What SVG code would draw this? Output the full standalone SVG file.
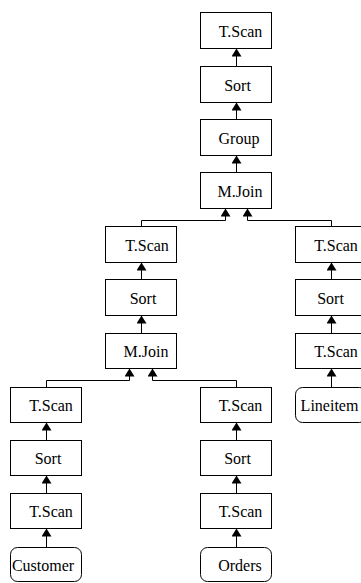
<svg xmlns="http://www.w3.org/2000/svg" width="361" height="583" viewBox="0 0 361 583">
<defs>
<style>
.b{fill:#fff;stroke:#000;stroke-width:1}
.t{font-size:16px;fill:#000;text-anchor:middle}
.c{fill:none;stroke:#000;stroke-width:1}
</style>
<marker id="ah" viewBox="0 0 8 10" refX="8" refY="5" markerWidth="8" markerHeight="10" markerUnits="userSpaceOnUse" orient="auto">
<path d="M0,0 L8,5 L0,10 z" fill="#000"/>
</marker>
</defs>
<rect width="361" height="583" fill="#fff"/>
<g id="connectors">
<path class="c" marker-end="url(#ah)" d="M236.5,66 V48.5"/>
<path class="c" marker-end="url(#ah)" d="M236.5,119 V102.5"/>
<path class="c" marker-end="url(#ah)" d="M236.5,172 V155.5"/>
<path class="c" marker-end="url(#ah)" d="M141.5,226 V220.5 H225.5 V208.5"/>
<path class="c" marker-end="url(#ah)" d="M331.5,226 V220.5 H247.5 V208.5"/>
<path class="c" marker-end="url(#ah)" d="M141.5,279 V262.5"/>
<path class="c" marker-end="url(#ah)" d="M141.5,333 V315.5"/>
<path class="c" marker-end="url(#ah)" d="M331.5,279 V262.5"/>
<path class="c" marker-end="url(#ah)" d="M331.5,333 V315.5"/>
<path class="c" marker-end="url(#ah)" d="M331.5,387 V368.5"/>
<path class="c" marker-end="url(#ah)" d="M46.5,387 V380.5 H129.5 V368.5"/>
<path class="c" marker-end="url(#ah)" d="M236.5,387 V380.5 H152.5 V368.5"/>
<path class="c" marker-end="url(#ah)" d="M46.5,440 V422.5"/>
<path class="c" marker-end="url(#ah)" d="M46.5,493 V475.5"/>
<path class="c" marker-end="url(#ah)" d="M46.5,547 V528.5"/>
<path class="c" marker-end="url(#ah)" d="M236.5,440 V422.5"/>
<path class="c" marker-end="url(#ah)" d="M236.5,493 V475.5"/>
<path class="c" marker-end="url(#ah)" d="M236.5,547 V528.5"/>
</g>
<g font-family="Liberation Serif, Times New Roman, serif">
<g id="n1"><rect class="b" x="200.5" y="12.5" width="71" height="36"/><text class="t" x="240.5" y="36.5">T.Scan</text></g>
<g id="n2"><rect class="b" x="200.5" y="66.5" width="71" height="36"/><text class="t" x="237.5" y="90.5">Sort</text></g>
<g id="n3"><rect class="b" x="200.5" y="119.5" width="71" height="36"/><text class="t" x="239" y="143.5">Group</text></g>
<g id="n4"><rect class="b" x="200.5" y="172.5" width="71" height="36"/><text class="t" x="240" y="196.5">M.Join</text></g>
<g id="n5"><rect class="b" x="105.5" y="226.5" width="71" height="36"/><text class="t" x="147" y="250.5">T.Scan</text></g>
<g id="n6"><rect class="b" x="105.5" y="279.5" width="71" height="36"/><text class="t" x="143" y="303.5">Sort</text></g>
<g id="n7"><rect class="b" x="105.5" y="333.5" width="71" height="35"/><text class="t" x="146" y="357">M.Join</text></g>
<g id="n8"><rect class="b" x="295.5" y="226.5" width="71" height="36"/><text class="t" x="336" y="250.5">T.Scan</text></g>
<g id="n9"><rect class="b" x="295.5" y="279.5" width="71" height="36"/><text class="t" x="330.5" y="303.5">Sort</text></g>
<g id="n10"><rect class="b" x="295.5" y="333.5" width="71" height="35"/><text class="t" x="336" y="357">T.Scan</text></g>
<g id="n11"><rect class="b" x="295.5" y="387.5" width="71" height="35" rx="7"/><text class="t" x="329.5" y="411">Lineitem</text></g>
<g id="n12"><rect class="b" x="10.5" y="387.5" width="71" height="35"/><text class="t" x="51" y="411">T.Scan</text></g>
<g id="n13"><rect class="b" x="10.5" y="440.5" width="71" height="35"/><text class="t" x="48" y="464">Sort</text></g>
<g id="n14"><rect class="b" x="10.5" y="493.5" width="71" height="35"/><text class="t" x="51" y="517">T.Scan</text></g>
<g id="n15"><rect class="b" x="10.5" y="547.5" width="71" height="34" rx="7"/><text class="t" x="43" y="570.5">Customer</text></g>
<g id="n16"><rect class="b" x="200.5" y="387.5" width="71" height="35"/><text class="t" x="240.5" y="411">T.Scan</text></g>
<g id="n17"><rect class="b" x="200.5" y="440.5" width="71" height="35"/><text class="t" x="237.5" y="464">Sort</text></g>
<g id="n18"><rect class="b" x="200.5" y="493.5" width="71" height="35"/><text class="t" x="240.5" y="517">T.Scan</text></g>
<g id="n19"><rect class="b" x="200.5" y="547.5" width="71" height="34" rx="7"/><text class="t" x="240" y="570.5">Orders</text></g>
</g>
</svg>
